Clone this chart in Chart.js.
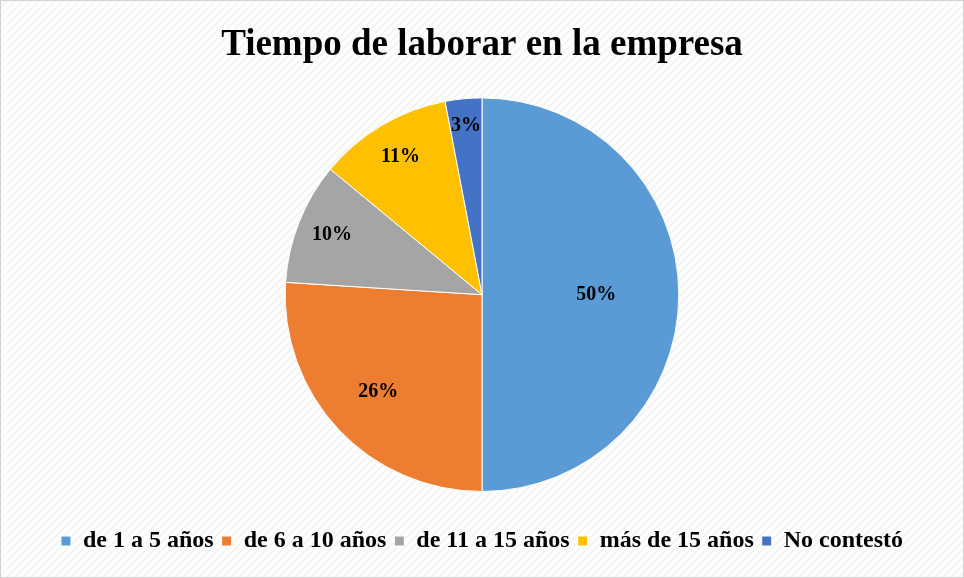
<!DOCTYPE html>
<html>
<head>
<meta charset="utf-8">
<script src="https://cdn.jsdelivr.net/npm/chart.js@4/dist/chart.umd.min.js"></script>
<style>
  html, body { margin: 0; padding: 0; background: #fff; }
  #wrap { width: 964px; height: 578px; }
</style>
</head>
<body>
<div id="wrap"><canvas id="myChart" width="964" height="578"></canvas></div>
<script>
const titleText = "Tiempo de laborar en la empresa";
const categories = ["de 1 a 5 años", "de 6 a 10 años", "de 11 a 15 años", "más de 15 años", "No contestó"];
const percentages = [50, 26, 10, 11, 3];
const sliceColors = ["#5b9bd5", "#ed7d31", "#a5a5a5", "#ffc000", "#4472c4"];

const serif = "'Liberation Serif', 'Times New Roman', serif";

// light diagonal stripes like the original background
function stripePattern() {
  const c = document.createElement("canvas");
  c.width = 8; c.height = 8;
  const g = c.getContext("2d");
  g.fillStyle = "#ffffff";
  g.fillRect(0, 0, 8, 8);
  g.strokeStyle = "#f1f1f1";
  g.lineWidth = 1.5;
  g.beginPath();
  g.moveTo(0, 8); g.lineTo(8, 0);
  g.moveTo(-2, 2); g.lineTo(2, -2);
  g.moveTo(6, 10); g.lineTo(10, 6);
  g.stroke();
  return g.createPattern(c, "repeat");
}

const background = {
  id: "background",
  beforeDraw(chart) {
    const ctx = chart.ctx;
    ctx.save();
    ctx.fillStyle = stripePattern();
    ctx.fillRect(0, 0, chart.width, chart.height);
    ctx.strokeStyle = "#d0d0d0";
    ctx.lineWidth = 1;
    ctx.strokeRect(0.5, 0.5, chart.width - 1, chart.height - 1);
    ctx.restore();
  }
};

const sliceLabels = {
  id: "sliceLabels",
  afterDatasetsDraw(chart) {
    const ctx = chart.ctx;
    const meta = chart.getDatasetMeta(0);
    const total = percentages.reduce((a, b) => a + b, 0);
    ctx.save();
    ctx.font = "bold 20px " + serif;
    ctx.fillStyle = "#000";
    ctx.textAlign = "center";
    ctx.textBaseline = "middle";
    meta.data.forEach(function (arc, i) {
      const p = arc.getProps(["x", "y", "startAngle", "endAngle", "outerRadius"], true);
      const mid = (p.startAngle + p.endAngle) / 2;
      const share = percentages[i] / total;
      const r = p.outerRadius * (0.88 - 0.6 * share);
      ctx.fillText(percentages[i] + "%", p.x + Math.cos(mid) * r, p.y + Math.sin(mid) * r);
    });
    ctx.restore();
  }
};

const data = {
  labels: categories,
  datasets: [{
    data: percentages,
    backgroundColor: sliceColors,
    borderColor: "#ffffff",
    borderWidth: 1
  }]
};

const config = {
  type: "pie",
  data: data,
  plugins: [background, sliceLabels],
  options: {
    responsive: false,
    animation: false,
    layout: { padding: { bottom: 15 } },
    plugins: {
      title: {
        display: true,
        text: titleText,
        color: "#000",
        font: { family: serif, size: 37, weight: "bold" },
        padding: { top: 23, bottom: 30 }
      },
      legend: {
        position: "bottom",
        // empty title only used as a spacer between pie and legend row
        title: {
          display: true,
          text: " ",
          font: { size: 10 },
          padding: { top: 17, bottom: 0 }
        },
        labels: {
          color: "#000",
          font: { family: serif, size: 24, weight: "bold" },
          boxWidth: 10,
          boxHeight: 10,
          padding: 8
        }
      },
      tooltip: { enabled: false }
    }
  }
};

const myChart = new Chart(document.getElementById("myChart"), config);
</script>
</body>
</html>
